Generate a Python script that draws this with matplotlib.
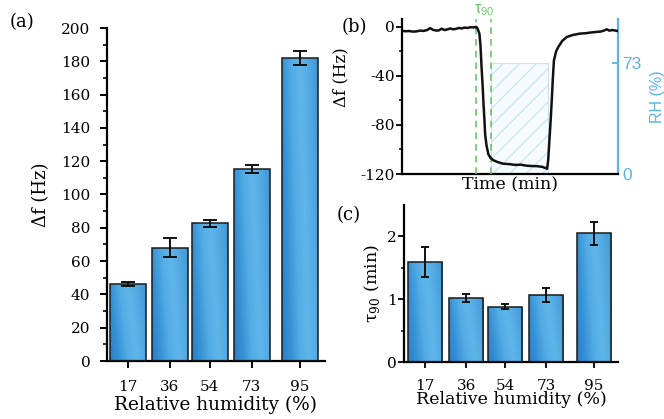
import numpy as np
import matplotlib
matplotlib.use("Agg")
import matplotlib.pyplot as plt
from matplotlib.colors import LinearSegmentedColormap
from matplotlib.patches import Rectangle

plt.rcParams['font.family'] = ['DejaVu Serif']
plt.rcParams['axes.unicode_minus'] = False
plt.rcParams['hatch.linewidth'] = 0.8

SANS = ['Liberation Sans', 'DejaVu Sans']

# ---- data ----
rh = [17, 36, 54, 73, 95]
rh_labels = ['17', '36', '54', '73', '95']
df_mean = [46.2, 68.0, 82.6, 115.6, 181.9]
df_err = [1.4, 5.8, 2.2, 2.4, 4.1]
tau_mean = [1.59, 1.02, 0.88, 1.07, 2.05]
tau_err = [0.24, 0.07, 0.04, 0.11, 0.18]

# one exposure cycle of the frequency shift (time in min, shift in Hz)
trace_t = [0.0, 1.0, 2.0, 3.0, 4.0, 5.0, 6.0, 7.0, 7.8, 8.6, 9.4, 10.2, 11.0,
           11.8, 12.6, 13.4, 14.2, 15.0, 15.8, 16.6, 17.4, 18.2, 19.0, 19.8,
           20.6, 21.0, 21.5, 21.8, 22.1, 22.4, 22.6, 22.9, 23.1, 23.5, 24.0,
           24.6, 25.4, 26.5, 28.1, 30.0, 31.5, 33.0, 34.5, 36.0, 37.5, 39.0,
           40.0, 40.3, 40.6, 41.0, 41.3, 41.6, 41.9, 42.2, 42.8, 43.4, 44.5,
           45.75, 47.5, 49.4, 51.0, 52.5, 54.1, 55.3, 56.2, 56.9, 57.6, 58.4,
           59.2, 60.0]
trace_df = [-3.2, -3.6, -3.4, -3.9, -3.7, -3.1, -3.3, -2.6, -1.0, -2.4, -3.0,
            -2.9, -1.5, -2.6, -2.1, -1.3, -2.0, -1.6, -0.9, -1.3, -0.6, -0.9,
            -0.3, -0.5, 0.0, -1.5, -5.5, -15.0, -33.0, -48.0, -60.6, -76.0,
            -88.0, -97.0, -104.0, -107.0, -108.8, -110.2, -111.6, -112.0,
            -112.6, -112.4, -113.2, -113.5, -113.6, -114.2, -115.3, -115.7,
            -109.0, -90.0, -76.0, -60.0, -42.0, -27.5, -20.0, -16.5, -11.5,
            -8.3, -6.6, -5.5, -5.2, -4.6, -4.1, -3.8, -2.9, -2.0, -3.1, -2.6,
            -3.0, -3.4]
tau_start = 20.6
tau_end = 24.7
rh_on = 24.7
rh_off = 40.6
rh_level = 73

BLUE_LIGHT = '#5ab4e4'
GREEN = '#6cc86c'

grad_cmap = LinearSegmentedColormap.from_list(
    'bar', ['#2a7ec6', '#3792d5', '#52abe4', '#60b6ea', '#52a9e2', '#3e96d6'])


def gradient_bars(ax, x, h, err, width, capsize, elinewidth):
    bars = ax.bar(x, h, width=width, color='none', edgecolor='#1a1a1a',
                  linewidth=1.1, zorder=3)
    u = np.linspace(0, 1, 64)
    v = np.linspace(0, 1, 64)
    U, V = np.meshgrid(u, v)
    img = np.clip(U * 0.8 + (1 - V) * 0.2, 0, 1)
    for p in bars.patches:
        x0, y0 = p.get_x(), p.get_y()
        w, hh = p.get_width(), p.get_height()
        im = ax.imshow(img, cmap=grad_cmap, vmin=0, vmax=1, aspect='auto',
                       extent=(x0, x0 + w, y0, y0 + hh), origin='upper',
                       zorder=2, interpolation='bilinear')
        im.set_clip_path(p)
    ax.errorbar(x, h, yerr=err, fmt='none', ecolor='#111111',
                elinewidth=elinewidth, capsize=capsize, capthick=elinewidth,
                zorder=4)
    return bars


fig = plt.figure(figsize=(6.64, 4.19), dpi=100)

# ---------------- (a) ----------------
ax_a = fig.add_axes([107 / 664, 1 - 361 / 419, 218 / 664, 333 / 419])
gradient_bars(ax_a, rh, df_mean, df_err, 16.3, 4.8, 1.4)
ax_a.set_xlim(7.5, 106.3)
ax_a.set_ylim(0, 200)
ax_a.set_yticks(np.arange(0, 201, 20))
ax_a.set_yticks(np.arange(10, 200, 20), minor=True)
ax_a.set_xticks(rh)
ax_a.set_xticklabels(rh_labels)
for s in ['top', 'right']:
    ax_a.spines[s].set_visible(False)
for s in ['left', 'bottom']:
    ax_a.spines[s].set_linewidth(1.6)
ax_a.tick_params(axis='both', which='major', direction='out', length=5,
                 width=1.4, labelsize=11)
ax_a.tick_params(axis='y', which='major', pad=7)
ax_a.tick_params(axis='x', which='major', pad=9)
ax_a.tick_params(axis='y', which='minor', direction='out', length=3, width=1.2)
ax_a.set_ylabel('Δf (Hz)', fontsize=13, labelpad=8)
ax_a.set_xlabel('Relative humidity (%)', fontsize=13.3, labelpad=1)
fig.text(10 / 664, 1 - 22 / 419, '(a)', fontsize=13, va='center', ha='left')

# ---------------- (b) ----------------
ax_b = fig.add_axes([402 / 664, 1 - 174 / 419, 216 / 664, 154.5 / 419])
ax_b.plot(trace_t, trace_df, color='#111111', linewidth=1.8, zorder=4)
ax_b.set_xlim(0, 60)
ax_b.set_ylim(-120, 6)
ax_b.set_yticks([0, -40, -80, -120])
ax_b.set_yticks([-20, -60, -100], minor=True)
ax_b.set_xticks([])
ax_b.spines['top'].set_visible(False)
ax_b.spines['right'].set_visible(False)
for s in ['left', 'bottom']:
    ax_b.spines[s].set_linewidth(1.6)
ax_b.tick_params(axis='y', which='major', direction='out', length=4,
                 width=1.3, labelsize=11, pad=1)
ax_b.tick_params(axis='y', which='minor', direction='out', length=2.5,
                 width=1.1)
ax_b.set_ylabel('Δf (Hz)', fontsize=12)
ax_b.yaxis.set_label_coords(-0.245, 0.63)
ax_b.set_xlabel('Time (min)', fontsize=12.5, labelpad=2)
for tx in (tau_start, tau_end):
    ax_b.axvline(tx, color=GREEN, linestyle=(0, (4, 3)), linewidth=1.2,
                 zorder=3)
ax_b.text((tau_start + tau_end) / 2 + 0.3, 1.01, 'τ$_\\mathregular{90}$',
          transform=ax_b.get_xaxis_transform(), color=GREEN, fontsize=11.5,
          family=SANS, ha='center', va='bottom')

ax_rh = ax_b.twinx()
ax_rh.set_ylim(0, 101.5)
ax_rh.add_patch(Rectangle((rh_on, 0), rh_off - rh_on, rh_level,
                          facecolor='#f6fbfe', edgecolor='#c7e2f2',
                          hatch='//', linewidth=0.8, zorder=1))
ax_b.set_zorder(ax_rh.get_zorder() + 1)
ax_b.patch.set_visible(False)
ax_rh.set_yticks([0, rh_level])
ax_rh.set_yticklabels(['0', str(rh_level)], family=SANS)
for s in ['top', 'left', 'bottom']:
    ax_rh.spines[s].set_visible(False)
ax_rh.spines['right'].set_color(BLUE_LIGHT)
ax_rh.spines['right'].set_linewidth(1.6)
ax_rh.tick_params(axis='y', direction='in', length=4, width=1.3,
                  colors=BLUE_LIGHT, labelsize=12.5, pad=3)
ax_rh.set_ylabel('RH (%)', fontsize=11.5, color=BLUE_LIGHT, family=SANS,
                 labelpad=6)
fig.text(342 / 664, 1 - 27 / 419, '(b)', fontsize=13, va='center', ha='left')

# ---------------- (c) ----------------
ax_c = fig.add_axes([404 / 664, 1 - 362 / 419, 214 / 664, 157 / 419])
gradient_bars(ax_c, rh, tau_mean, tau_err, 15.7, 2.8, 1.4)
ax_c.set_xlim(7.3, 106)
ax_c.set_ylim(0, 2.5)
ax_c.set_yticks([0, 1, 2])
ax_c.set_yticks([0.5, 1.5], minor=True)
ax_c.set_xticks(rh)
ax_c.set_xticklabels(rh_labels)
for s in ['top', 'right']:
    ax_c.spines[s].set_visible(False)
for s in ['left', 'bottom']:
    ax_c.spines[s].set_linewidth(1.6)
ax_c.tick_params(axis='both', which='major', direction='out', length=4,
                 width=1.3, labelsize=11)
ax_c.tick_params(axis='y', which='major', pad=1)
ax_c.tick_params(axis='x', which='major', pad=8)
ax_c.tick_params(axis='y', which='minor', direction='out', length=2.5,
                 width=1.1)
ax_c.set_ylabel('τ$_\\mathregular{90}$ (min)', fontsize=12.5, labelpad=4)
ax_c.set_xlabel('Relative humidity (%)', fontsize=12.5, labelpad=-1)
fig.text(337 / 664, 1 - 215 / 419, '(c)', fontsize=13, va='center', ha='left')

fig.savefig('out.png', dpi=100)
